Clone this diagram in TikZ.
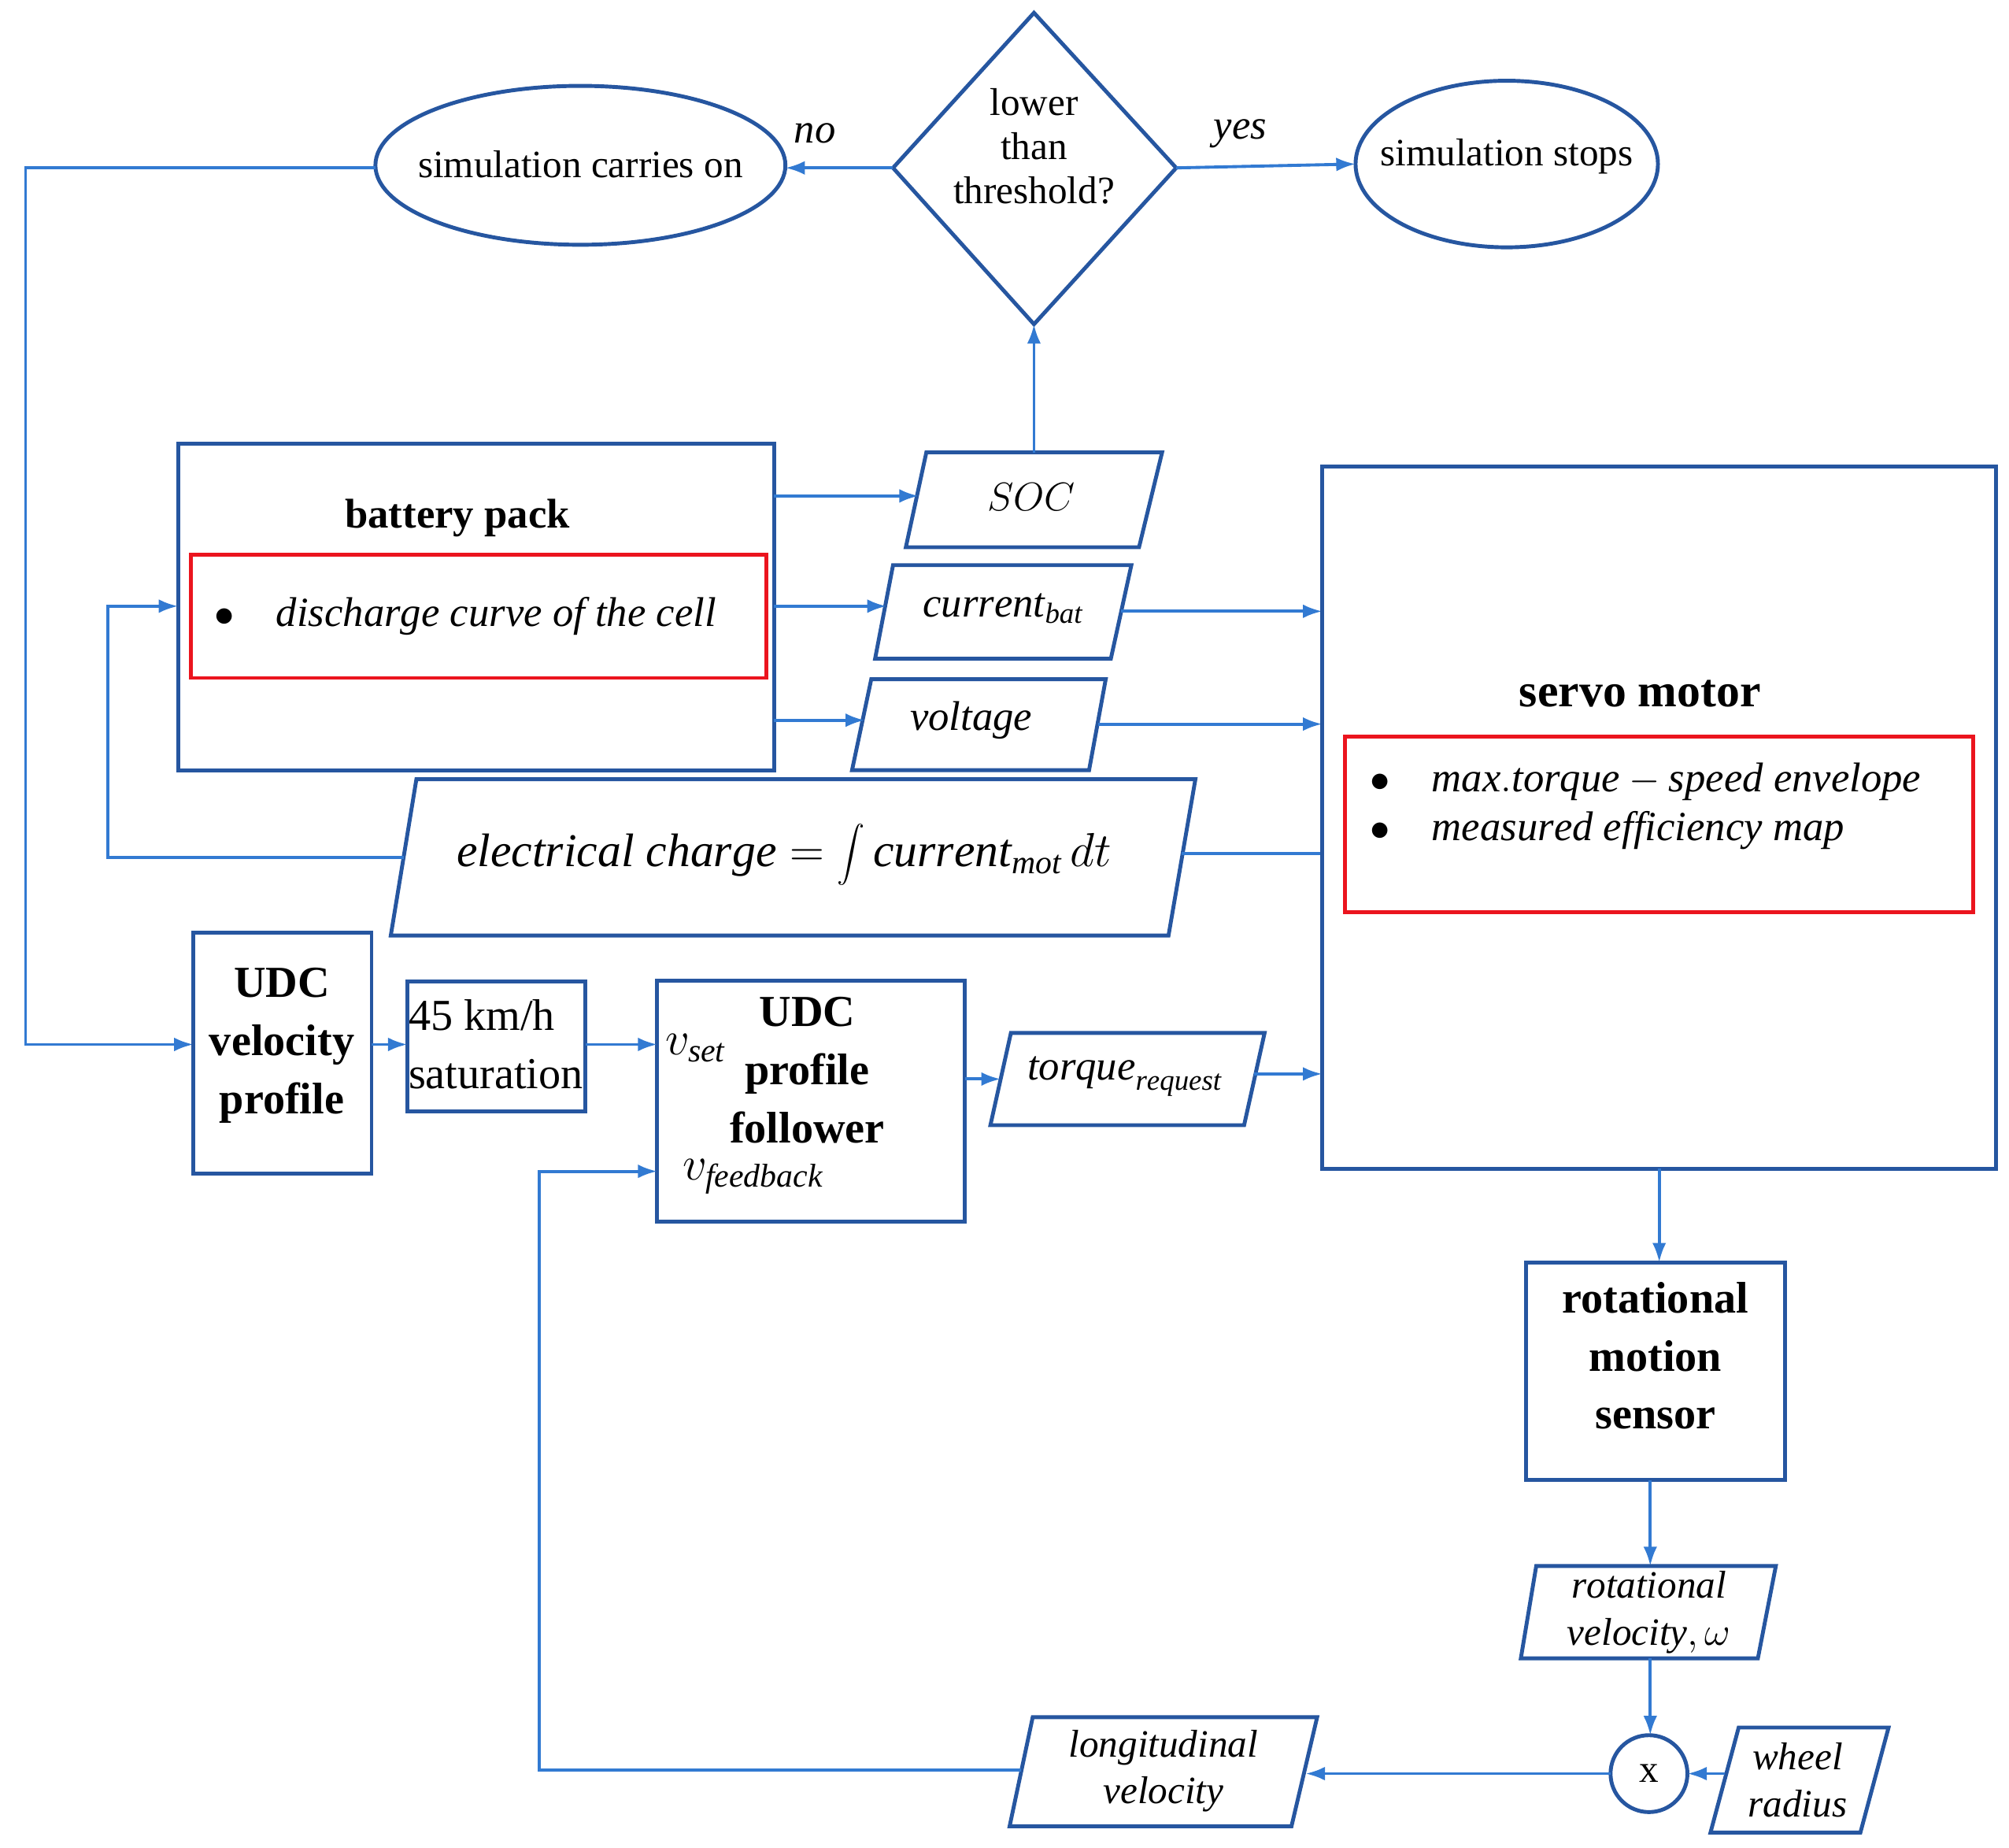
\documentclass[tikz,border=0pt]{standalone}
\usepackage{fontspec}
\setmainfont{Liberation Serif}
\usetikzlibrary{shapes.geometric,arrows.meta}
\definecolor{bord}{RGB}{38,86,160}
\definecolor{ln}{RGB}{50,122,210}
\definecolor{rd}{RGB}{235,20,30}
\begin{document}
\begin{tikzpicture}[x=0.016276cm,y=-0.016276cm,
  box/.style={draw=bord,line width=1.4pt},
  red/.style={draw=rd,line width=1.4pt},
  con/.style={draw=ln,line width=1.1pt,-{Latex[length=7pt,width=5pt]}},
  lin/.style={draw=ln,line width=1.1pt},
  bt/.style={font=\fontsize{15}{17}\selectfont\bfseries,align=center},
  it/.style={font=\fontsize{15}{17}\selectfont\itshape,align=center},
  nt/.style={font=\fontsize{14}{16}\selectfont,align=center}]
\useasboundingbox (0,0) rectangle (1568,1442);
% decision
\draw[box] (807,10) coordinate (dT) -- (918,131) coordinate (dR) -- (807,253) coordinate (dB) -- (697,131) coordinate (dL) -- cycle;
\node[nt] (dec) at (807,114) {lower\\than\\threshold?};
\draw[box] (453,129) ellipse [x radius=160,y radius=62];
\node[nt] (carry) at (453,128) {simulation carries on};
\draw[box] (1176,128) ellipse [x radius=118,y radius=65];
\node[nt] (stop) at (1176,122) {simulation stops};
\node[it] at (636,104) {no};
\node[it] at (968,104) {yes};
\draw[con] (dL) -- (613,131);
\draw[con] (dR) -- (1058,128);
\draw[con] (293,131) -- (20,131) -- (20,815) -- (151,815);
% battery
\draw[box] (139,346) rectangle (604,601);
\node[bt] at (357,404) {battery pack};
\draw[red] (149,433) rectangle (598,529);
\node[it,anchor=west] at (160,481) {$\bullet$\quad $\mathit{discharge\ curve\ of\ the\ cell}$};
% parallelograms
\draw[box] (723,353) -- (907,353) -- (889,427) -- (707,427) -- cycle;
\node[it] (soc) at (805,388) {$SOC$};
\draw[box] (697,441) -- (883,441) -- (867,514) -- (683,514) -- cycle;
\node[it] (cur) at (783,475) {$\mathit{current}_{\mathit{bat}}$};
\draw[box] (680,530) -- (863,530) -- (850,601) -- (665,601) -- cycle;
\node[it] (volt) at (758,562) {$\mathit{voltage}$};
\draw[box] (325,608) -- (933,608) -- (912,730) -- (305,730) -- cycle;
\node[it,font=\fontsize{17}{19}\selectfont] (ec) at (612,667) {$\mathit{electrical\ charge} = \displaystyle\int \mathit{current}_{\mathit{mot}}\, dt$};
\draw[con] (604,387) -- (717,387);
\draw[con] (604,473) -- (692,473);
\draw[con] (604,562) -- (675,562);
\draw[con] (807,353) -- (dB);
\draw[con] (875,477) -- (1032,477);
\draw[con] (857,565) -- (1032,565);
\draw[lin] (922,666) -- (1032,666);
\draw[con] (315,669) -- (84,669) -- (84,473) -- (139,473);
% servo
\draw[box] (1032,364) rectangle (1558,912);
\node[bt,font=\fontsize{17}{19}\selectfont\bfseries] at (1280,541) {servo motor};
\draw[red] (1050,575) rectangle (1540,712);
\node[it,anchor=west] at (1062,610) {$\bullet$\quad $\mathit{max.torque - speed\ envelope}$};
\node[it,anchor=west] at (1062,648) {$\bullet$\quad $\mathit{measured\ efficiency\ map}$};
% UDC chain
\draw[box] (151,728) rectangle (290,916);
\node[bt,font=\fontsize{16}{21}\selectfont\bfseries] (udc) at (220,816) {UDC\\velocity\\profile};
\draw[box] (318,766) rectangle (457,867);
\node[font=\fontsize{16}{21}\selectfont,align=left] (sat) at (387,815) {45 km/h\\saturation};
\draw[box] (513,765) rectangle (753,953);
\node[bt,font=\fontsize{16}{21}\selectfont\bfseries] (fol) at (630,835) {UDC\\profile\\follower};
\node[it,font=\fontsize{17}{19}\selectfont] at (543,818) {$v_{\mathit{set}}$};
\node[it,font=\fontsize{17}{19}\selectfont] at (588,918) {$v_{\mathit{feedback}}$};
\draw[con] (290,815) -- (318,815);
\draw[con] (457,815) -- (513,815);
\draw[box] (789,806) -- (987,806) -- (971,878) -- (773,878) -- cycle;
\node[it] (tr) at (878,840) {$\mathit{torque}_{\mathit{request}}$};
\draw[con] (753,842) -- (781,842);
\draw[con] (979,838) -- (1032,838);
% lower chain
\draw[con] (1295,912) -- (1295,985);
\draw[box] (1191,985) rectangle (1393,1155);
\node[bt,font=\fontsize{16}{21}\selectfont\bfseries] (rms) at (1292,1058) {rotational\\motion\\sensor};
\draw[con] (1288,1155) -- (1288,1222);
\draw[box] (1199,1222) -- (1386,1222) -- (1372,1294) -- (1187,1294) -- cycle;
\node[it,font=\fontsize{14}{17}\selectfont] (rv) at (1287,1258) {$\mathit{rotational}$\\$\mathit{velocity}, \omega$};
\draw[con] (1288,1294) -- (1288,1354);
\draw[box] (1287,1384) circle (30);
\node[nt] (mul) at (1287,1384) {x};
\draw[box] (1357,1348) -- (1474,1348) -- (1452,1430) -- (1335,1430) -- cycle;
\node[it,font=\fontsize{14}{17}\selectfont] (wr) at (1403,1389) {$\mathit{wheel}$\\$\mathit{radius}$};
\draw[con] (1346,1384) -- (1317,1384);
\draw[box] (806,1340) -- (1028,1340) -- (1008,1425) -- (788,1425) -- cycle;
\node[it,font=\fontsize{14}{17}\selectfont] (lv) at (908,1382) {$\mathit{longitudinal}$\\$\mathit{velocity}$};
\draw[con] (1257,1384) -- (1019,1384);
\draw[con] (797,1381) -- (421,1381) -- (421,914) -- (513,914);
\end{tikzpicture}
\end{document}
